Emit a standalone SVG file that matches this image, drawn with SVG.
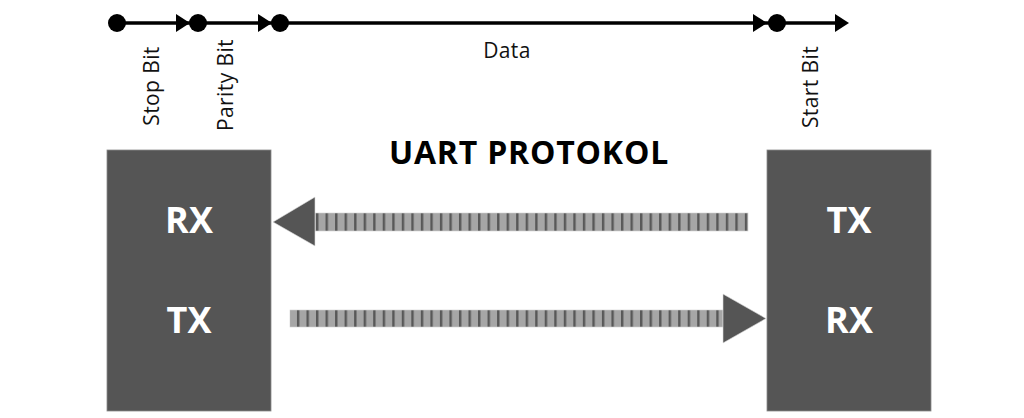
<svg xmlns="http://www.w3.org/2000/svg" width="1024" height="418" viewBox="0 0 1024 418">
  <style>
    .lbl { font-family: "Open Sans", "Liberation Sans", sans-serif; font-size: 21px; letter-spacing: 0.4px; fill: #111; }
    .title { font-family: "Open Sans", "Liberation Sans", sans-serif; font-size: 32px; font-weight: bold; letter-spacing: 0.8px; fill: #000; }
    .port { font-family: "Open Sans", "Liberation Sans", sans-serif; font-size: 36px; font-weight: bold; fill: #fff; text-anchor: middle; }
    .box { fill: #555555; stroke: #8a8a8a; stroke-width: 0.8; }
    .tl { stroke: #000; stroke-width: 3.5; fill: none; }
    .dot { fill: #000; }
    .ah { fill: #000; }
    .head { fill: #555555; stroke: #dddddd; stroke-width: 0.6; }
    .bar { fill: url(#stripes); stroke: #d0d0d0; stroke-width: 0.6; }
  </style>
  <defs>
    <pattern id="stripes" patternUnits="userSpaceOnUse" x="316" y="0" width="9.53" height="20">
      <rect x="0" y="0" width="9.53" height="20" fill="#a6a6a6"/>
      <rect x="0" y="0" width="2.4" height="20" fill="#585858"/>
    </pattern>
  </defs>

  <rect width="1024" height="418" fill="#fff"/>

  <g id="timeline">
    <line class="tl" x1="117" y1="23" x2="840" y2="23"/>
    <circle class="dot" cx="117" cy="23" r="9"/>
    <circle class="dot" cx="198" cy="23" r="9"/>
    <circle class="dot" cx="280" cy="23" r="9"/>
    <circle class="dot" cx="777" cy="23" r="9"/>
    <polygon class="ah" points="176,14 190,23 176,32"/>
    <polygon class="ah" points="258,14 272,23 258,32"/>
    <polygon class="ah" points="753,14 767,23 753,32"/>
    <polygon class="ah" points="835,14 849,23 835,32"/>
  </g>

  <g id="labels">
    <text class="lbl" text-anchor="middle" transform="translate(159,86) rotate(-90)">Stop Bit</text>
    <text class="lbl" text-anchor="middle" transform="translate(233,85) rotate(-90)">Parity Bit</text>
    <text class="lbl" text-anchor="middle" x="507" y="58">Data</text>
    <text class="lbl" text-anchor="middle" transform="translate(817.5,87) rotate(-90)">Start Bit</text>
  </g>

  <g id="title">
    <text class="title" text-anchor="middle" x="529" y="164">UART PROTOKOL</text>
  </g>

  <g id="device-left">
    <rect class="box" x="107" y="150" width="164" height="261"/>
    <text class="port" x="189" y="233">RX</text>
    <text class="port" x="189" y="333">TX</text>
  </g>

  <g id="device-right">
    <rect class="box" x="767" y="150" width="164" height="261"/>
    <text class="port" x="849" y="233">TX</text>
    <text class="port" x="849" y="333">RX</text>
  </g>

  <g id="connectors">
    <rect class="bar" x="315" y="213" width="433" height="18"/>
    <polygon class="head" points="273,222 315,197 315,246"/>
    <rect class="bar" x="290" y="310" width="433" height="17"/>
    <polygon class="head" points="723,294 766,318.5 723,343"/>
  </g>
</svg>
